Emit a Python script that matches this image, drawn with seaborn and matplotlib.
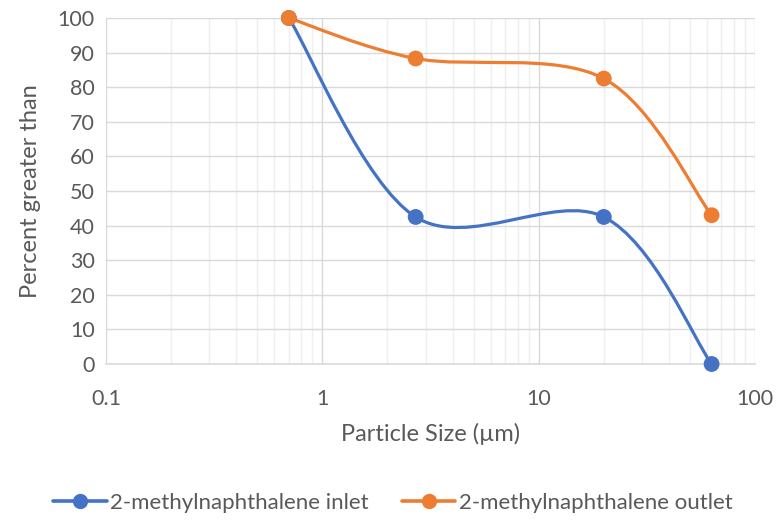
import numpy as np
import pandas as pd
import matplotlib
matplotlib.use("Agg")
import matplotlib.pyplot as plt
import seaborn as sns
from matplotlib.path import Path
from matplotlib.patches import PathPatch
from matplotlib.lines import Line2D
from matplotlib.ticker import FixedLocator, FuncFormatter, NullFormatter

# ---- data ----
particle_size = [0.7, 2.7, 20, 63]
inlet = [100, 42.5, 42.5, 0]
outlet = [100, 88.3, 82.5, 43]
series_names = ["2-methylnaphthalene inlet", "2-methylnaphthalene outlet"]
colors = ["#4472C4", "#ED7D31"]
x_ticks = [0.1, 1, 10, 100]
y_ticks = list(range(0, 101, 10))

sns.set_theme(style="white")
plt.rcParams['font.family'] = ['Lato', 'DejaVu Sans']
text_color = "#595959"

df = pd.DataFrame({
    "size": particle_size * 2,
    "pct": inlet + outlet,
    "series": [series_names[0]] * len(inlet) + [series_names[1]] * len(outlet),
})

fig = plt.figure(figsize=(7.84, 5.21), dpi=100)
ax = fig.add_axes([106/784, 1 - 364/521, (755-106)/784, (364-18)/521])
ax.set_xscale("log")
ax.set_xlim(0.1, 100)
ax.set_ylim(0, 100)


def smooth_path(xs, ys):
    # Excel-like smoothed line: cubic Bezier with Catmull-Rom control points (in log-x space)
    lx = np.log10(np.asarray(xs, float))
    y = np.asarray(ys, float)
    n = len(lx)
    P = np.column_stack([lx, y])
    verts = [P[0]]
    codes = [Path.MOVETO]
    for i in range(n - 1):
        p0 = P[i - 1] if i > 0 else P[i]
        p1 = P[i]
        p2 = P[i + 1]
        p3 = P[i + 2] if i + 2 < n else P[i + 1]
        c1 = p1 + (p2 - p0) / 6.0
        c2 = p2 - (p3 - p1) / 6.0
        verts += [c1, c2, p2]
        codes += [Path.CURVE4] * 3
    verts = np.array(verts)
    verts[:, 0] = 10 ** verts[:, 0]
    return Path(verts, codes)


for name, vals, c in zip(series_names, [inlet, outlet], colors):
    patch = PathPatch(smooth_path(particle_size, vals), facecolor="none",
                      edgecolor=c, lw=2.3, zorder=3, capstyle="round", joinstyle="round")
    ax.add_patch(patch)

sns.scatterplot(data=df, x="size", y="pct", hue="series", palette=colors,
                s=130, edgecolor="none", linewidth=0, zorder=4, ax=ax, legend=False,
                clip_on=False)

# grid
minor = [m * 10.0 ** e for e in range(-1, 2) for m in range(2, 10)]
ax.xaxis.set_major_locator(FixedLocator(x_ticks))
ax.xaxis.set_minor_locator(FixedLocator(minor))
ax.xaxis.set_major_formatter(FuncFormatter(lambda v, p: f"{v:g}"))
ax.xaxis.set_minor_formatter(NullFormatter())
ax.set_yticks(y_ticks)
ax.grid(True, which="major", color="#d9d9d9", lw=1.0, zorder=0)
ax.grid(True, which="minor", axis="x", color="#efefef", lw=1.0, zorder=0)
ax.set_axisbelow(True)
for s in ["top", "right", "left"]:
    ax.spines[s].set_visible(False)
ax.spines["bottom"].set_color("#d9d9d9")
ax.spines["bottom"].set_linewidth(1.2)

ax.tick_params(axis="both", which="both", length=0, labelsize=15.5, colors=text_color)
ax.tick_params(axis="x", pad=18)
ax.tick_params(axis="y", pad=8)

ax.set_xlabel("Particle Size (µm)", fontsize=17, color=text_color, labelpad=10)
ax.set_ylabel("Percent greater than", fontsize=17, color=text_color, labelpad=12)

handles = [Line2D([0], [0], color=c, lw=2.6, marker="o", markersize=11,
                  markeredgewidth=0) for c in colors]
fig.legend(handles, series_names, loc="center", bbox_to_anchor=(393/784, 1 - 503/521),
           ncol=2, frameon=False, fontsize=16, handlelength=2.4, handletextpad=0.15,
           columnspacing=1.5, labelcolor=text_color)

fig.savefig("out.png", dpi=100)
